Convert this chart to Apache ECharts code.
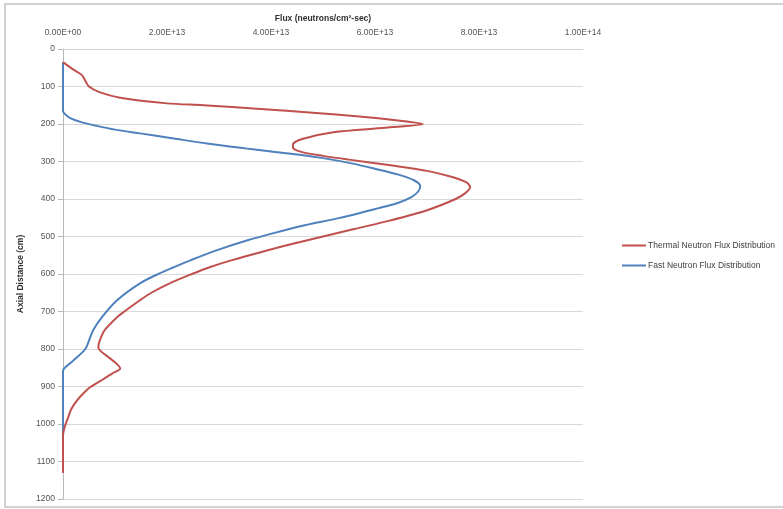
<!DOCTYPE html>
<html>
<head>
<meta charset="utf-8">
<script src="https://cdn.jsdelivr.net/npm/echarts@6/dist/echarts.min.js"></script>
<style>
  html, body { margin: 0; padding: 0; background: #ffffff; }
  #chart { width: 783px; height: 509px; }
</style>
</head>
<body>
<div id="chart"></div>
<script>
// Axial flux profiles: depth along the core (cm) vs. neutron flux (n/cm²-sec)
const thermalDepth = [35, 55, 69, 85, 100, 115, 130, 145, 150, 160, 170, 180, 190, 200,
  210, 222, 240, 255, 265, 275, 285, 295, 310, 325, 340, 355, 368, 385, 400, 430, 457,
  480, 500, 520, 540, 563, 582, 600, 625, 650, 670, 700, 715, 750, 780, 795, 805, 830,
  852, 865, 880, 902, 920, 937, 960, 982, 1009, 1030, 1130];
const thermalFlux = [0, 2.0e12, 3.6e12, 4.3e12, 5.0e12, 7.0e12, 11e12, 20e12, 27e12, 38e12,
  48e12, 57e12, 64e12, 69.2e12, 62e12, 52e12, 46e12, 44.2e12, 44.3e12, 46e12, 50e12, 55e12,
  63e12, 70e12, 74.5e12, 77.5e12, 78.3e12, 77.3e12, 75.5e12, 70e12, 63e12, 56e12, 50e12,
  44e12, 38.5e12, 32.5e12, 28.2e12, 24.8e12, 20.5e12, 17e12, 14.8e12, 11.8e12, 10.4e12, 8.0e12,
  7.0e12, 6.8e12, 7.2e12, 9.5e12, 11e12, 9.5e12, 7.8e12, 5.2e12, 3.8e12, 2.7e12, 1.6e12,
  1.0e12, 0.3e12, 0, 0];

const fastDepth = [35, 165, 175, 185, 195, 205, 215, 225, 238, 252, 265, 274, 282, 291,
  305, 318, 335, 350, 365, 380, 395, 410, 425, 451, 470, 491, 510, 537, 563, 582, 600, 625, 670,
  715, 750, 795, 805, 822, 840, 852, 860, 1130];
const fastFlux = [0, 0, 0.5e12, 1.5e12, 3.5e12, 6.5e12, 10e12, 14.8e12, 21e12, 27.7e12,
  35e12, 40.4e12, 45.5e12, 50e12, 55.5e12, 59.6e12, 64.5e12, 67.5e12, 68.7e12, 68.3e12, 67e12,
  64.5e12, 60.5e12, 53e12, 46.5e12, 40.5e12, 35.5e12, 29.5e12, 24.6e12, 21.3e12, 18.3e12,
  14.8e12, 10.4e12, 7.5e12, 5.8e12, 4.5e12, 4.0e12, 2.7e12, 1.2e12, 0.2e12, 0, 0];

const xTickLabels = ['0.00E+00', '2.00E+13', '4.00E+13', '6.00E+13', '8.00E+13', '1.00E+14'];
const seriesNames = ['Thermal Neutron Flux Distribution', 'Fast Neutron Flux Distribution'];

function pairs(flux, depth) {
  return depth.map((d, i) => [flux[i], d]);
}

const chart = echarts.init(document.getElementById('chart'), null, { renderer: 'canvas' });

const option = {
  backgroundColor: '#ffffff',
  animation: false,
  textStyle: { fontFamily: 'Liberation Sans, Arial, sans-serif' },
  graphic: [{
    type: 'rect',
    shape: { x: 5, y: 4, width: 800, height: 503 },
    style: { fill: 'none', stroke: '#c4c4c4', lineWidth: 1.5 },
    silent: true,
    z: 0
  }],
  grid: { left: 63, top: 49, width: 520, height: 450, containLabel: false },
  xAxis: {
    type: 'value',
    position: 'top',
    min: 0,
    max: 1e14,
    interval: 2e13,
    name: 'Flux (neutrons/cm²-sec)',
    nameLocation: 'middle',
    nameGap: 26,
    nameTextStyle: { fontSize: 8.5, fontWeight: 'bold', color: '#303030' },
    axisLine: { show: true, lineStyle: { color: '#d0d0d0' } },
    axisTick: { show: false },
    axisLabel: {
      fontSize: 8.5,
      color: '#555555',
      margin: 12,
      formatter: (v) => xTickLabels[Math.round(v / 2e13)]
    },
    splitLine: { show: false }
  },
  yAxis: {
    type: 'value',
    inverse: true,
    min: 0,
    max: 1200,
    interval: 100,
    name: 'Axial Distance (cm)',
    nameLocation: 'middle',
    nameGap: 34,
    nameRotate: 90,
    nameTextStyle: { fontSize: 8.5, fontWeight: 'bold', color: '#303030' },
    axisLine: { show: true, lineStyle: { color: '#b8b8b8' } },
    axisTick: { show: true, length: 5, lineStyle: { color: '#b8b8b8' } },
    axisLabel: { fontSize: 8.5, color: '#555555', margin: 8, formatter: (v) => String(v) },
    splitLine: { show: true, lineStyle: { color: '#d9d9d9', width: 1 } }
  },
  legend: {
    orient: 'vertical',
    left: 617,
    top: 236,
    itemWidth: 24,
    itemHeight: 2,
    itemGap: 11,
    icon: 'rect',
    textStyle: { fontSize: 8.5, color: '#404040', padding: [0, 0, 0, -3] },
    data: seriesNames
  },
  series: [
    {
      name: seriesNames[0],
      type: 'line',
      data: pairs(thermalFlux, thermalDepth),
      smooth: 0.3,
      showSymbol: false,
      lineStyle: { color: '#c0504d', width: 2 },
      itemStyle: { color: '#c0504d' },
      z: 3
    },
    {
      name: seriesNames[1],
      type: 'line',
      data: pairs(fastFlux, fastDepth),
      smooth: 0.3,
      showSymbol: false,
      lineStyle: { color: '#4f81bd', width: 2 },
      itemStyle: { color: '#4f81bd' },
      z: 2
    }
  ]
};

chart.setOption(option);
</script>
</body>
</html>
